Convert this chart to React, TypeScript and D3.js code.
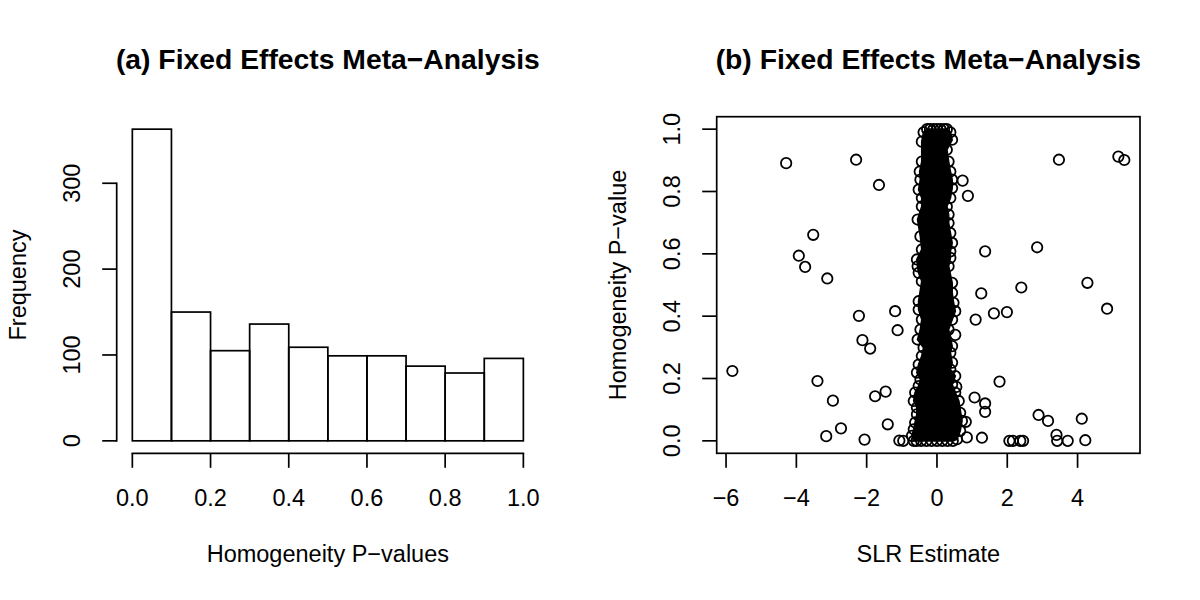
import React from 'react';
import * as d3 from 'd3';

// ---------- Panel (a): histogram ----------
const histBreaks = [0, 0.1, 0.2, 0.3, 0.4, 0.5, 0.6, 0.7, 0.8, 0.9, 1.0];
const histCounts = [363, 150, 105, 136, 109, 99, 99, 87, 79, 96];
const histXTicks = [0, 0.2, 0.4, 0.6, 0.8, 1.0];
const histXTickLabels = ['0.0', '0.2', '0.4', '0.6', '0.8', '1.0'];
const histYTicks = [0, 100, 200, 300];
const histYTickLabels = ['0', '100', '200', '300'];

// ---------- Panel (b): scatter ----------
const scatterXTicks = [-6, -4, -2, 0, 2, 4];
const scatterXTickLabels = ['\u22126', '\u22124', '\u22122', '0', '2', '4'];
const scatterYTicks = [0, 0.2, 0.4, 0.6, 0.8, 1.0];
const scatterYTickLabels = ['0.0', '0.2', '0.4', '0.6', '0.8', '1.0'];

// scattered points outside the dense central column (SLR estimate, P-value)
const outlierX = [
  -5.82, -4.29, -2.3, -1.65, 0.73, 0.88, -3.52, -3.93, -3.75, -3.12, 1.37, 2.85, 3.47, 5.16, 5.33,
  4.28, 4.84, 2.4, 1.26, 1.1, 1.62, 1.99, -2.22, -1.19, -1.12, -2.12, -1.9, 0.52, -3.4, -2.96,
  -1.76, -1.46, 1.78, 1.07, 1.37, 1.37, 2.89, 3.16, 4.12, -2.73, -3.15, -2.06, -1.4, -1.07, -0.96,
  0.82, 0.85, 1.28, 2.06, 2.16, 2.37, 2.45, 3.4, 3.42, 3.72, 4.22, 0.66, 0.55,
];
const outlierY = [
  0.224, 0.891, 0.902, 0.821, 0.835, 0.786, 0.661, 0.594, 0.558, 0.521, 0.608, 0.621, 0.902, 0.912, 0.901,
  0.507, 0.424, 0.492, 0.473, 0.389, 0.409, 0.413, 0.401, 0.416, 0.355, 0.323, 0.296, 0.34, 0.192, 0.129,
  0.143, 0.158, 0.19, 0.139, 0.12, 0.093, 0.083, 0.064, 0.071, 0.04, 0.015, 0.004, 0.053, 0.001, 0.0,
  0.061, 0.011, 0.01, 0.0, 0.0, 0.0, 0.0, 0.019, 0.0, 0.0, 0.002, 0.09, 0.173,
];

// outermost points of the dense column, left side (bottom to top)
const columnLeftX = [
  -0.66, -0.71, -0.66, -0.62, -0.57, -0.57, -0.66, -0.62, -0.52, -0.47, -0.57, -0.52, -0.43, -0.38,
  -0.55, -0.47, -0.43, -0.52, -0.52, -0.43, -0.52, -0.55, -0.57, -0.43, -0.47, -0.55, -0.43, -0.43,
  -0.52, -0.47, -0.49, -0.43, -0.43, -0.38, -0.28,
];
const columnLeftY = [
  0.0, 0.016, 0.037, 0.059, 0.085, 0.107, 0.128, 0.155, 0.176, 0.197, 0.219, 0.245, 0.272, 0.299,
  0.325, 0.357, 0.389, 0.421, 0.448, 0.512, 0.539, 0.56, 0.582, 0.614, 0.656, 0.71, 0.752, 0.779,
  0.806, 0.838, 0.864, 0.896, 0.96, 0.99, 1.0,
];
// top row of the column (left to right)
const columnTopX = [-0.2, -0.1, 0.0, 0.1, 0.2];
const columnTopY = [1.0, 1.0, 1.0, 1.0, 1.0];
// outermost points of the dense column, right side (top to bottom)
const columnRightX = [
  0.28, 0.38, 0.43, 0.28, 0.33, 0.38, 0.43, 0.43, 0.38, 0.28, 0.33, 0.33, 0.38, 0.43, 0.38, 0.38,
  0.33, 0.43, 0.43, 0.47, 0.52, 0.43, 0.33, 0.43, 0.38, 0.43, 0.38, 0.52, 0.43, 0.52, 0.62, 0.71,
  0.66, 0.57,
];
const columnRightY = [
  1.0, 0.99, 0.966, 0.934, 0.896, 0.864, 0.838, 0.811, 0.779, 0.752, 0.726, 0.699, 0.667, 0.635, 0.608, 0.587,
  0.56, 0.507, 0.475, 0.443, 0.416, 0.389, 0.357, 0.304, 0.283, 0.251, 0.229, 0.208, 0.181, 0.155, 0.128, 0.064,
  0.032, 0.005,
];
// bottom row of the column (right to left)
const columnBottomX = [0.45, 0.3, 0.15, 0.0, -0.15, -0.3, -0.45, -0.58];
const columnBottomY = [0.0, 0.0, 0.0, 0.0, 0.0, 0.0, 0.0, 0.0];

// ---------- layout ----------
const W = 1200;
const H = 600;
const FONT = "'Liberation Sans', Arial, Helvetica, sans-serif";
const AXIS_FS = 23.5;
const TITLE_FS = 28.3;
const LW = 1.7;
const TICK = 14.5;
const R = 5.2;
const PLW = 1.8;

const plotTop = 116.7;
const plotBottom = 453.3;
const leftPlot = { x0: 116.7, x1: 539 };
const rightPlot = { x0: 716.7, x1: 1140 };

function ext(lo: number, hi: number): [number, number] {
  const d = (hi - lo) * 0.04;
  return [lo - d, hi + d];
}

export default function App() {
  const maxCount = d3.max(histCounts) as number;
  const xH = d3.scaleLinear().domain(ext(0, 1)).range([leftPlot.x0, leftPlot.x1]);
  const yH = d3.scaleLinear().domain(ext(0, maxCount)).range([plotBottom, plotTop]);

  const allX = [...outlierX, ...columnLeftX, ...columnRightX];
  const allY = [...outlierY, ...columnLeftY, ...columnRightY];
  const xS = d3
    .scaleLinear()
    .domain(ext(d3.min(allX) as number, d3.max(allX) as number))
    .range([rightPlot.x0, rightPlot.x1]);
  const yS = d3
    .scaleLinear()
    .domain(ext(Math.min(0, d3.min(allY) as number), Math.max(1, d3.max(allY) as number)))
    .range([plotBottom, plotTop]);

  const bars = histCounts.map((c, i) => ({ x0: histBreaks[i], x1: histBreaks[i + 1], c }));

  const outline: [number, number][] = [
    ...columnLeftX.map((x, i) => [x, columnLeftY[i]] as [number, number]),
    ...columnTopX.map((x, i) => [x, columnTopY[i]] as [number, number]),
    ...columnRightX.map((x, i) => [x, columnRightY[i]] as [number, number]),
    ...columnBottomX.map((x, i) => [x, columnBottomY[i]] as [number, number]),
  ];
  const polyLine = d3
    .line<[number, number]>()
    .x((d) => xS(d[0]))
    .y((d) => yS(d[1]));
  const polyPath = (polyLine(outline) || '') + 'Z';

  const points: [number, number][] = [
    ...outline,
    ...outlierX.map((x, i) => [x, outlierY[i]] as [number, number]),
  ];

  const textStyle = { fontFamily: FONT, fontSize: AXIS_FS, fill: '#000' };

  return (
    <svg
      width={W}
      height={H}
      viewBox={`0 0 ${W} ${H}`}
      style={{ position: 'absolute', left: 0, top: 0, background: '#fff' }}
    >
      <rect x={0} y={0} width={W} height={H} fill="#fff" />

      {/* ---------------- Panel (a) ---------------- */}
      <text
        x={(leftPlot.x0 + leftPlot.x1) / 2}
        y={69}
        textAnchor="middle"
        style={{ fontFamily: FONT, fontSize: TITLE_FS, fontWeight: 'bold' }}
      >
        (a) Fixed Effects Meta{'\u2212'}Analysis
      </text>
      {bars.map((b, i) => (
        <rect
          key={i}
          x={xH(b.x0)}
          y={yH(b.c)}
          width={xH(b.x1) - xH(b.x0)}
          height={yH(0) - yH(b.c)}
          fill="none"
          stroke="#000"
          strokeWidth={LW}
        />
      ))}
      {/* x axis */}
      <line
        x1={xH(histXTicks[0])}
        x2={xH(histXTicks[histXTicks.length - 1])}
        y1={plotBottom}
        y2={plotBottom}
        stroke="#000"
        strokeWidth={LW}
        strokeLinecap="square"
      />
      {histXTicks.map((t, i) => (
        <g key={i}>
          <line x1={xH(t)} x2={xH(t)} y1={plotBottom} y2={plotBottom + TICK} stroke="#000" strokeWidth={LW} />
          <text x={xH(t)} y={506} textAnchor="middle" style={textStyle}>
            {histXTickLabels[i]}
          </text>
        </g>
      ))}
      {/* y axis */}
      <line
        x1={leftPlot.x0}
        x2={leftPlot.x0}
        y1={yH(histYTicks[0])}
        y2={yH(histYTicks[histYTicks.length - 1])}
        stroke="#000"
        strokeWidth={LW}
        strokeLinecap="square"
      />
      {histYTicks.map((t, i) => (
        <g key={i}>
          <line x1={leftPlot.x0 - TICK} x2={leftPlot.x0} y1={yH(t)} y2={yH(t)} stroke="#000" strokeWidth={LW} />
          <text
            transform={`translate(${leftPlot.x0 - 36.5},${yH(t)}) rotate(-90)`}
            textAnchor="middle"
            style={textStyle}
          >
            {histYTickLabels[i]}
          </text>
        </g>
      ))}
      <text x={(leftPlot.x0 + leftPlot.x1) / 2} y={562} textAnchor="middle" style={textStyle}>
        Homogeneity P{'\u2212'}values
      </text>
      <text
        transform={`translate(26,${(plotTop + plotBottom) / 2}) rotate(-90)`}
        textAnchor="middle"
        style={textStyle}
      >
        Frequency
      </text>

      {/* ---------------- Panel (b) ---------------- */}
      <text
        x={(rightPlot.x0 + rightPlot.x1) / 2}
        y={69}
        textAnchor="middle"
        style={{ fontFamily: FONT, fontSize: TITLE_FS, fontWeight: 'bold' }}
      >
        (b) Fixed Effects Meta{'\u2212'}Analysis
      </text>
      <path d={polyPath} fill="#000" stroke="#000" strokeWidth={PLW} />
      {points.map((p, i) => (
        <circle key={i} cx={xS(p[0])} cy={yS(p[1])} r={R} fill="none" stroke="#000" strokeWidth={PLW} />
      ))}
      <rect
        x={rightPlot.x0}
        y={plotTop}
        width={rightPlot.x1 - rightPlot.x0}
        height={plotBottom - plotTop}
        fill="none"
        stroke="#000"
        strokeWidth={LW}
      />
      {scatterXTicks.map((t, i) => (
        <g key={i}>
          <line x1={xS(t)} x2={xS(t)} y1={plotBottom} y2={plotBottom + TICK} stroke="#000" strokeWidth={LW} />
          <text x={xS(t)} y={506} textAnchor="middle" style={textStyle}>
            {scatterXTickLabels[i]}
          </text>
        </g>
      ))}
      {scatterYTicks.map((t, i) => (
        <g key={i}>
          <line x1={rightPlot.x0 - TICK} x2={rightPlot.x0} y1={yS(t)} y2={yS(t)} stroke="#000" strokeWidth={LW} />
          <text
            transform={`translate(${rightPlot.x0 - 36.5},${yS(t)}) rotate(-90)`}
            textAnchor="middle"
            style={textStyle}
          >
            {scatterYTickLabels[i]}
          </text>
        </g>
      ))}
      <text x={(rightPlot.x0 + rightPlot.x1) / 2} y={562} textAnchor="middle" style={textStyle}>
        SLR Estimate
      </text>
      <text
        transform={`translate(626,${(plotTop + plotBottom) / 2}) rotate(-90)`}
        textAnchor="middle"
        style={textStyle}
      >
        Homogeneity P{'\u2212'}value
      </text>
    </svg>
  );
}
